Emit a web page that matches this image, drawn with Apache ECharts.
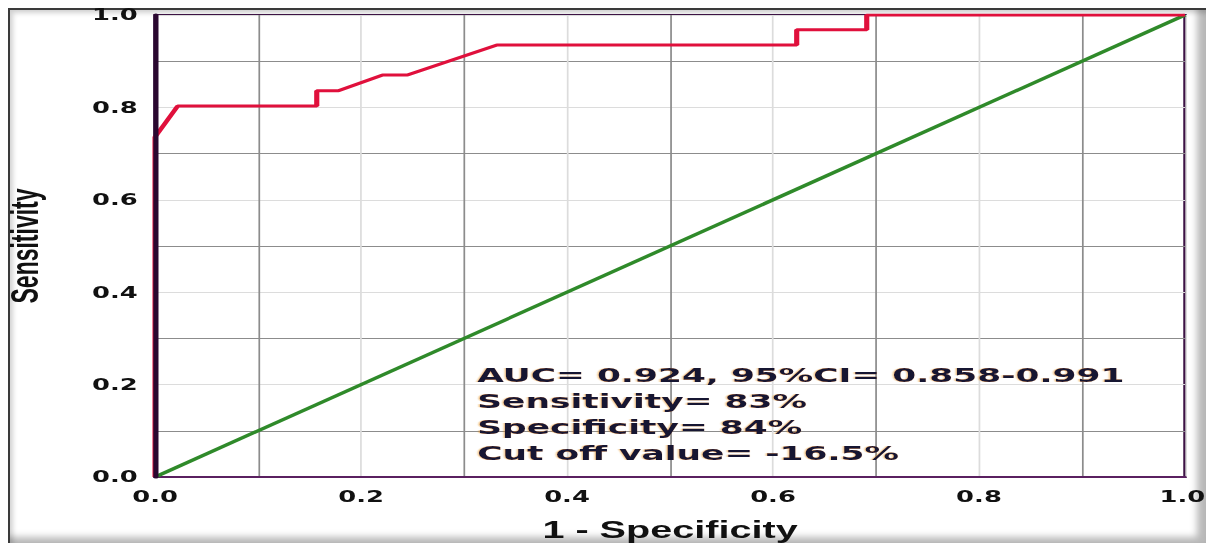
<!DOCTYPE html>
<html><head><meta charset="utf-8">
<script src="https://cdn.jsdelivr.net/npm/echarts@6/dist/echarts.min.js"></script>
<style>
html,body{margin:0;padding:0;background:#fff;overflow:hidden;width:1206px;height:543px;}
#frame{position:absolute;left:8px;top:8px;width:1198px;height:535px;box-sizing:border-box;border-left:2px solid #3a3a3a;border-top:2px solid #3a3a3a;box-shadow: inset 3px 3px 5px rgba(0,0,0,0.18), inset -9px -6px 7px rgba(0,0,0,0.28);}
#chart{position:absolute;left:0;top:0;width:700px;height:543px;transform:scaleX(1.722857);transform-origin:0 0;}
</style></head><body>
<div id="frame"></div>
<div id="chart"></div>
<script>
// ROC curve points (1 - specificity, sensitivity)
const rocFpr = [0, 0, 0.022, 0.157, 0.157, 0.178, 0.221, 0.245, 0.332, 0.623, 0.623, 0.691, 0.691, 1.0];
const rocTpr = [0, 0.736, 0.803, 0.803, 0.836, 0.836, 0.870, 0.870, 0.935, 0.935, 0.968, 0.968, 1.0, 1.0];
// reference diagonal
const refX = [0, 1];
const refY = [0, 1];
// tick labels shown (every 0.2)
const tickLabels = ['0.0', '0.2', '0.4', '0.6', '0.8', '1.0'];
// annotation text
const annotationLines = [
  'AUC= 0.924, 95%CI= 0.858-0.991',
  'Sensitivity= 83%',
  'Specificity= 84%',
  'Cut off value= -16.5%'
];

const rocData = rocFpr.map((x, i) => [x, rocTpr[i]]);
const refData = refX.map((x, i) => [x, refY[i]]);

function labelFmt(v) {
  const k = Math.round(v * 10);
  if (k % 2 !== 0) return '';
  return tickLabels[k / 2];
}
function xLabelFmt(v) {
  const k = Math.round(v * 10);
  if (k % 2 !== 0) return '';
  if (k === 10) return '{r|' + tickLabels[k / 2] + '}';
  return tickLabels[k / 2];
}

const chart = echarts.init(document.getElementById('chart'), null, {renderer: 'svg'});
const labelFont = {fontFamily: 'DejaVu Sans', fontWeight: 'bold', fontSize: 15, color: '#111'};

chart.setOption({
  animation: false,
  backgroundColor: 'transparent',
  grid: {left: 90, right: 12.2, top: 15, bottom: 66, containLabel: false, outerBoundsMode: 'none',
         show: true, borderWidth: 2, borderColor: '#3d1345', backgroundColor: 'transparent'},
  xAxis: {
    type: 'value', min: 0, max: 1, interval: 0.1,
    name: '1 - Specificity', nameLocation: 'middle', nameGap: 42,
    nameTextStyle: {fontFamily: 'Liberation Sans', fontWeight: 'bold', fontSize: 23, color: '#111'},
    axisLine: {show: true, lineStyle: {color: '#5a2060', width: 2}},
    axisTick: {show: false},
    axisLabel: Object.assign({formatter: xLabelFmt, margin: 12,
      rich: {r: {fontFamily: 'DejaVu Sans', fontWeight: 'bold', fontSize: 15, color: '#111', padding: [0, 3, 0, 0]}}}, labelFont),
    splitLine: {show: true, lineStyle: {color: ['#dcdcdc', '#8c8c8c'], width: 1}}
  },
  yAxis: [{
    type: 'value', min: 0, max: 1, interval: 0.1,
    name: 'Sensitivity', nameLocation: 'middle', nameGap: 64, nameRotate: 90,
    nameTextStyle: {fontFamily: "'Liberation Sans Narrow', 'Arial Narrow', 'Liberation Sans'", fontWeight: 'bold', fontSize: 23, color: '#111'},
    axisLine: {show: false},
    axisTick: {show: false},
    axisLabel: Object.assign({formatter: labelFmt, margin: 10}, labelFont),
    splitLine: {show: true, lineStyle: {color: ['#dcdcdc', '#8c8c8c'], width: 1}}
  }, {
    type: 'value', min: 0, max: 1, interval: 0.1, position: 'left', z: 10,
    axisLine: {show: true, onZero: false, lineStyle: {color: '#2a0830', width: 3}},
    axisTick: {show: false}, axisLabel: {show: false}, splitLine: {show: false}
  }],
  series: [{
    type: 'line', data: refData, showSymbol: false, yAxisIndex: 0,
    lineStyle: {color: '#2f8a2a', width: 3}, z: 2
  }, {
    type: 'line', data: rocData, showSymbol: false, yAxisIndex: 0,
    lineStyle: {color: '#e0103c', width: 3}, z: 3
  }],
  graphic: [{
    type: 'text', left: 277, top: 362, z: 20,
    style: {
      text: annotationLines.join('\n'),
      font: 'bold 20px "DejaVu Sans"',
      lineHeight: 26,
      fill: '#141432',
      textShadowColor: 'rgba(230,140,20,0.6)', textShadowOffsetX: -0.6, textShadowBlur: 1
    }
  }]
});
</script>
</body></html>
